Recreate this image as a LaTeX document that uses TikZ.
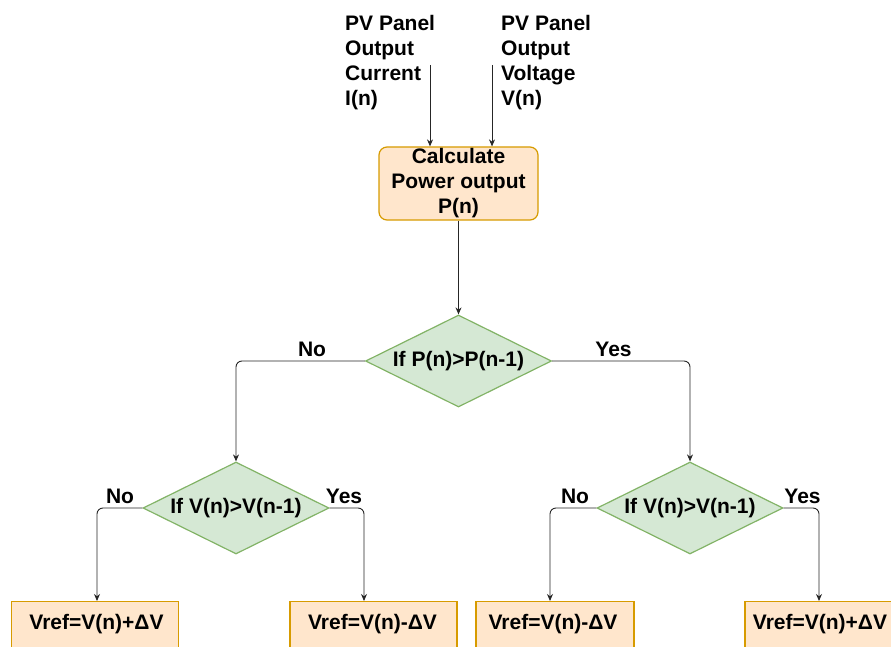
\documentclass[tikz,border=0pt]{standalone}
\usepackage{fontspec}
\setmainfont{Liberation Sans}
\usetikzlibrary{shapes.geometric,arrows.meta}
\definecolor{obfill}{HTML}{FFE6CC}
\definecolor{obdraw}{HTML}{D79B00}
\definecolor{gfill}{HTML}{D5E8D4}
\definecolor{gdraw}{HTML}{82B366}
\tikzset{
 txt/.style={font=\fontsize{21}{25}\selectfont\bfseries, inner sep=0pt, text=black},
 calcbox/.style={txt, draw=obdraw, fill=obfill, rounded corners=8pt, line width=1.2pt,
   minimum width=159pt, minimum height=73pt, align=center},
 decision/.style={txt, diamond, draw=gdraw, fill=gfill, line width=1.2pt, aspect=2,
   minimum width=186pt, minimum height=92pt},
 outbox/.style={draw=obdraw, fill=obfill, line width=1.2pt, minimum width=167pt,
   minimum height=70pt, anchor=north, inner sep=0pt},
 conn/.style={draw=black!85, line width=0.9pt, rounded corners=6pt, -{Stealth[length=7pt,width=6pt]}},
}
\begin{document}
\begin{tikzpicture}[x=1pt,y=-1pt]
\useasboundingbox (0,0) rectangle (891,647);
\clip (0,0) rectangle (891,647);
% inputs
\node[txt, align=left, anchor=north west] (ti) at (345,15) {PV Panel\\Output\\Current\\I(n)};
\node[txt, align=left, anchor=north west] (tv) at (501,15) {PV Panel\\Output\\Voltage\\V(n)};
\node[calcbox] (calc) at (458.5,183.5) {Calculate\\Power output\\P(n)};
\coordinate (ci) at (430,65);
\coordinate (cv) at (492,65);
\draw[conn] (ci) -- (ci |- calc.north);
\draw[conn] (cv) -- (cv |- calc.north);
% decisions
\node[decision] (d1) at (458.5,361) {If P(n)>P(n-1)};
\node[decision] (d2) at (236,508) {If V(n)>V(n-1)};
\node[decision] (d3) at (690,508) {If V(n)>V(n-1)};
\draw[conn] (calc) -- (d1);
\draw[conn] (d1.west) -| (d2.north);
\draw[conn] (d1.east) -| (d3.north);
% outputs
\node[outbox] (b1) at (95,601) {};
\node[outbox] (b2) at (373.5,601) {};
\node[outbox, minimum width=158pt] (b3) at (555,601) {};
\node[outbox] (b4) at (828.5,601) {};
\node[txt, anchor=base] (t1) at (96.5,629) {Vref=V(n)+ΔV};
\node[txt, anchor=base] (t2) at (372.5,629) {Vref=V(n)-ΔV};
\node[txt, anchor=base] (t3) at (553,629) {Vref=V(n)-ΔV};
\node[txt, anchor=base] (t4) at (820,629) {Vref=V(n)+ΔV};
\draw[conn] (d2.west) -| ([xshift=2pt]b1.north);
\draw[conn] (d2.east) -| ([xshift=-9.5pt]b2.north);
\draw[conn] (d3.west) -| ([xshift=-5pt]b3.north);
\draw[conn] (d3.east) -| ([xshift=-9.5pt]b4.north);
% labels
\node[txt, anchor=base] (l1) at (312,356) {No};
\node[txt, anchor=base] (l2) at (613.5,356) {Yes};
\node[txt, anchor=base] (l3) at (120,503) {No};
\node[txt, anchor=base] (l4) at (344,503) {Yes};
\node[txt, anchor=base] (l5) at (575,503) {No};
\node[txt, anchor=base] (l6) at (802.5,503) {Yes};
\end{tikzpicture}
\end{document}
